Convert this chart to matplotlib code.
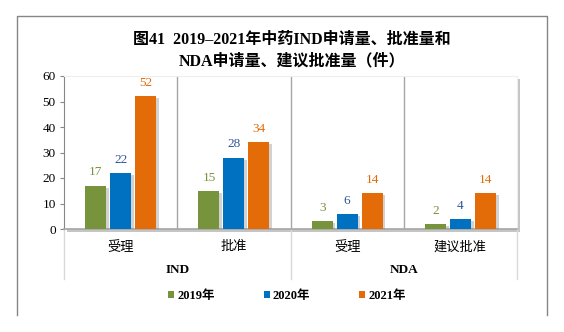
import matplotlib
matplotlib.use("Agg")
import matplotlib.pyplot as plt
import matplotlib.patheffects as pe
from matplotlib.lines import Line2D
from matplotlib.patches import Patch
from matplotlib.transforms import blended_transform_factory
import numpy as np

plt.rcParams['font.family'] = ['Liberation Serif', 'Noto Sans CJK SC']

categories = ['受理', '批准', '受理', '建议批准']
groups = ['IND', 'NDA']
years = ['2019年', '2020年', '2021年']
v2019 = [17, 15, 3, 2]
v2020 = [22, 28, 6, 4]
v2021 = [52, 34, 14, 14]

bar_colors = ['#77933C', '#0070C0', '#E36C09']
label_colors = ['#77933C', '#2E5597', '#E36C09']

W, H = 564, 332
fig = plt.figure(figsize=(W / 100, H / 100), dpi=100)


def px(x, y):
    return x / W, 1 - y / H


# outer frame (left, top, right)
fx, fy = zip(*[px(17, 315), px(17, 16), px(547, 16), px(547, 315)])
fig.add_artist(Line2D(fx, fy, color='#868686', lw=1.0))

ax = fig.add_axes([64 / W, 1 - 229 / H, (517 - 64) / W, (229 - 76) / H])
ax.patch.set_path_effects([pe.SimplePatchShadow(offset=(2.5, -2), shadow_rgbFace='#808080', alpha=0.45),
                           pe.Normal()])

x = np.arange(len(categories))
bw = 0.185
step = 0.22
shadow = [pe.SimplePatchShadow(offset=(2, -1.5), shadow_rgbFace='#808080', alpha=0.35), pe.Normal()]
for i, vals in enumerate([v2019, v2020, v2021]):
    pos = x + (i - 1) * step
    bars = ax.bar(pos, vals, bw, color=bar_colors[i], zorder=3)
    for b in bars:
        b.set_path_effects(shadow)
    for xp, v in zip(pos, vals):
        ax.annotate(str(v), (xp, v), xytext=(0, 9.5), textcoords='offset points',
                    ha='center', va='center', fontsize=9.5, color=label_colors[i])

ax.set_xlim(-0.5, 3.5)
ax.set_ylim(0, 60)
ax.set_yticks(range(0, 61, 10))
ax.tick_params(axis='y', direction='out', length=3, color='#868686', labelsize=9.5, pad=3)
ax.set_xticks([])

for s in ['top', 'right']:
    ax.spines[s].set_color('#EEEEEE')
    ax.spines[s].set_linewidth(0.8)
ax.spines['left'].set_color('#868686')
ax.spines['bottom'].set_color('#A6A6A6')
ax.spines['bottom'].set_linewidth(1.2)

# separators between categories
for xs in [0.5, 1.5, 2.5]:
    ax.axvline(xs, color='#A6A6A6', lw=1.0, zorder=1)

trans = blended_transform_factory(ax.transData, ax.transAxes)
for xs in [-0.5, 1.5, 3.5]:
    ax.plot([xs, xs], [0, -0.327], transform=trans, color='#D9D9D9', lw=1.0, clip_on=False)

for xi, c in zip(x, categories):
    ax.text(xi, -0.118, c, transform=trans, ha='center', va='center', fontsize=9.5)
for gi, g in enumerate(groups):
    ax.text(0.5 + 2 * gi, -0.268, g, transform=trans, ha='center', va='center',
            fontsize=9.5, fontweight='bold')

fig.text(*px(292, 40), '图41  2019–2021年中药IND申请量、批准量和', ha='center', va='center',
         fontsize=11.5, fontweight='bold')
fig.text(*px(292, 61), 'NDA申请量、建议批准量（件）', ha='center', va='center',
         fontsize=11.5, fontweight='bold')

handles = [Patch(facecolor=c, edgecolor='none') for c in bar_colors]
leg = fig.legend(handles, years, loc='center', bbox_to_anchor=px(287, 296), ncol=3, frameon=False,
                 handlelength=0.5, handleheight=0.5, handletextpad=0.25, columnspacing=3.9,
                 prop={'size': 9, 'weight': 'bold'})

fig.savefig('out.png', dpi=100)
